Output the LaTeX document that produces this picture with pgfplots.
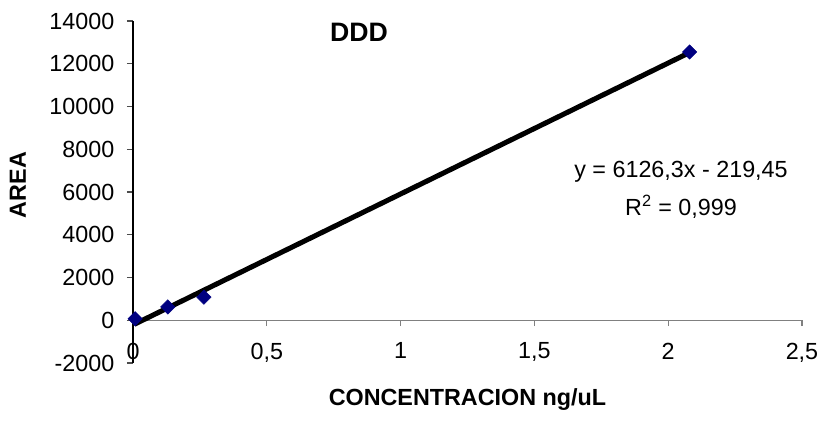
\documentclass[border=0pt]{standalone}
\usepackage{pgfplots}
\pgfplotsset{compat=1.18}
\usepackage{fontspec}
\setmainfont{Liberation Sans}
\definecolor{navymark}{RGB}{0,0,128}
\definecolor{axisgray}{RGB}{128,128,128}

\begin{document}
\begin{tikzpicture}
\begin{axis}[
    scale only axis,
    width=501.75pt, height=256.5pt,
    xmin=0, xmax=2.5,
    ymin=-2000, ymax=14000,
    axis y line*=left,
    axis x line*=middle,      % x axis sits on y = 0
    x axis line style={draw=axisgray, line width=0.9pt},
    y axis line style={draw=black, line width=0.8pt},
    xtick={0,0.5,...,2.5},
    ytick={-2000,0,2000,...,14000},
    scaled ticks=false,
    tick align=outside,
    major tick length=4.5pt,
    xtick style={draw=axisgray, line width=0.8pt},
    ytick style={draw=black!70, line width=0.8pt},
    hide obscured x ticks=false,
    hide obscured y ticks=false,
    /pgf/number format/assume math mode=true,
    /pgf/number format/use comma,
    /pgf/number format/1000 sep={},
    tick label style={font=\fontsize{17.5}{21}\selectfont},
    xticklabel shift=9pt,
    yticklabel shift=6pt,
    label style={font=\fontsize{17.5}{21}\selectfont\bfseries},
    xlabel={CONCENTRACION ng/uL},
    ylabel={AREA},
    xlabel style={at={(rel axis cs:0.5,-0.108)}, anchor=center},
    ylabel style={at={(rel axis cs:-0.172,0.52)}, anchor=center},
    clip=false,
]
% calibration points
\addplot [only marks, mark=square*, mark size=3.8pt,
          mark options={rotate=45, fill=navymark, draw=navymark}] coordinates {
    (0.008, 70)
    (0.13, 620)
    (0.265, 1080)
    (2.08, 12550)
};
% linear trendline y = 6126,3x - 219,45
\addplot [black, line width=3.8pt, no marks] coordinates {
    (0.005, -188.8)
    (2.08, 12523.2)
};
\node[font=\fontsize{20}{24}\selectfont\bfseries] at (axis cs:0.845,13455) {DDD};
\node[font=\fontsize{17.5}{21}\selectfont] at (axis cs:2.048,6950) {y = 6126,3x - 219,45};
\node[font=\fontsize{17.5}{21}\selectfont] at (axis cs:2.048,5312) {R\textsuperscript{2} = 0,999};
\coordinate (bbll) at (rel axis cs:-0.1988,-0.1754);
\coordinate (bbur) at (rel axis cs:1.0404,1.0614);
\end{axis}
\pgfresetboundingbox
\path (bbll) rectangle (bbur);
\end{tikzpicture}
\end{document}
